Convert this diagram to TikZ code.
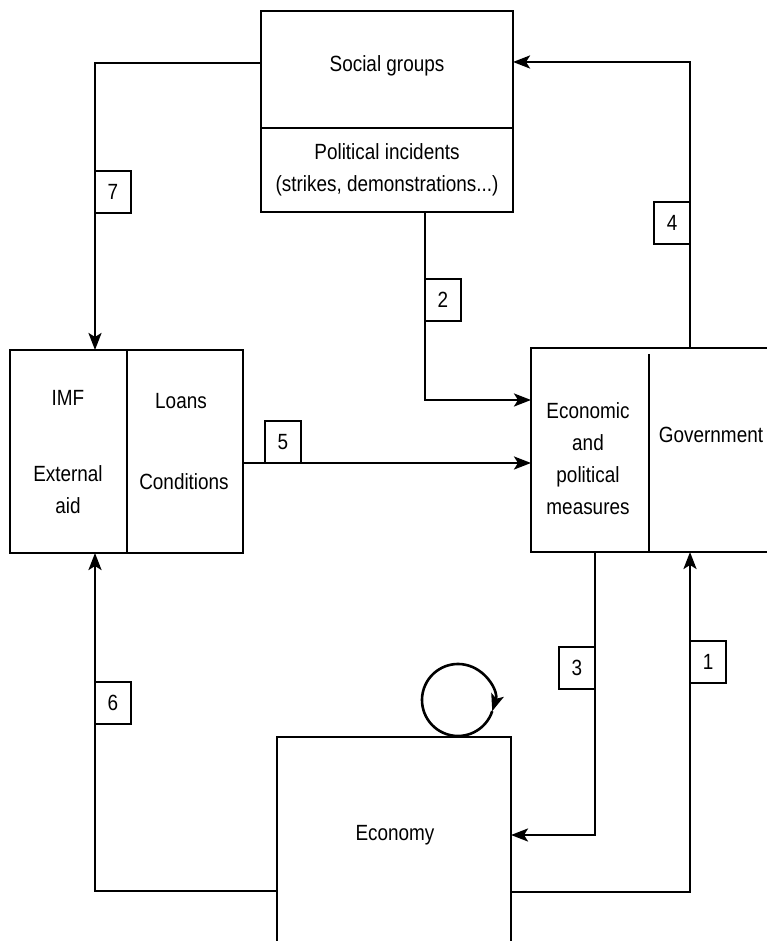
\documentclass[tikz,border=0pt]{standalone}
\usepackage{fontspec}
\setmainfont[FakeStretch=0.86]{Liberation Sans}
\usetikzlibrary{arrows.meta}

\tikzset{block/.style={draw, rectangle, inner sep=0pt, outer sep=0pt},
         tag/.style={draw, rectangle, inner sep=0pt, outer sep=0pt,
                     minimum width=36pt, minimum height=42pt},
         flow/.style={draw, -{Stealth[length=17pt,width=13pt,inset=4pt]}}}

\begin{document}
\begin{tikzpicture}[
    x = 1pt, y = 1pt, line width = 2.6pt,
    every node/.style = {font = \fontsize{22}{32}\selectfont, align = center}
  ]
  \useasboundingbox (0,0) rectangle (766,941);
  % boxes
  \node[block, minimum width = 252pt, minimum height = 201pt] (social) at (387,829.5) {};
  \node[block, minimum width = 233pt, minimum height = 203pt] (imf) at (126.5,489.5) {};
  \node[block, minimum width = 244pt, minimum height = 204pt] (policy) at (653,491) {};
  \node[block, minimum width = 234pt, minimum height = 209pt] (economy) at (394,99.5) {};
  \draw (social.west |- 0,813) -- (social.east |- 0,813);
  \draw (imf.north -| 127,0) -- (imf.south -| 127,0);
  \draw (649,587) -- (649,388);
  \begin{scope}[nodes = {anchor = base}]
    \node (groups) at (387,869) {Social groups};
    \node (fund) at (68,535) {IMF};
    \node (loans) at (181,532) {Loans};
    \node (conditions) at (184,451) {Conditions};
    \node (govt) at (711,498) {Government};
    \node (econ) at (395,100) {Economy};
  \end{scope}
  \node (incidents) at (387,771) {Political incidents\\(strikes, demonstrations...)};
  \node (aid) at (68,451) {External\\aid};
  \node (measures) at (588,482) {Economic\\and\\political\\measures};
  % connectors
  \draw[flow] ([yshift=48.5pt]social.west) -| ([xshift=-31.5pt]imf.north);
  \draw[flow] ([xshift=37pt]policy.north) |- ([yshift=49.5pt]social.east);
  \draw[flow] ([xshift=38pt]social.south) |- ([yshift=50pt]policy.west);
  \draw[flow] ([yshift=-11.5pt]imf.east) -- ([yshift=-13pt]policy.west);
  \draw[flow] ([xshift=-58pt]policy.south) |- ([yshift=6.5pt]economy.east);
  \draw[flow] ([yshift=-50.5pt]economy.east) -| ([xshift=37pt]policy.south);
  \draw[flow] ([yshift=-49.5pt]economy.west) -| ([xshift=-31.5pt]imf.south);
  \draw[flow] ([xshift=64pt,yshift=37pt]economy.north) ++(342:36)
    arc[start angle=342, end angle=-18, radius=36];
  % numbers
  \node[tag, anchor = north west] (t1) at (690,300) {1};
  \node[tag, anchor = north west] (t2) at (425,662) {2};
  \node[tag, anchor = north east] (t3) at (595,294) {3};
  \node[tag, anchor = north east] (t4) at (690,739) {4};
  \node[tag, anchor = south west] (t5) at (265,478) {5};
  \node[tag, anchor = north west] (t6) at (95,259) {6};
  \node[tag, anchor = north west] (t7) at (95,770) {7};
\end{tikzpicture}
\end{document}
